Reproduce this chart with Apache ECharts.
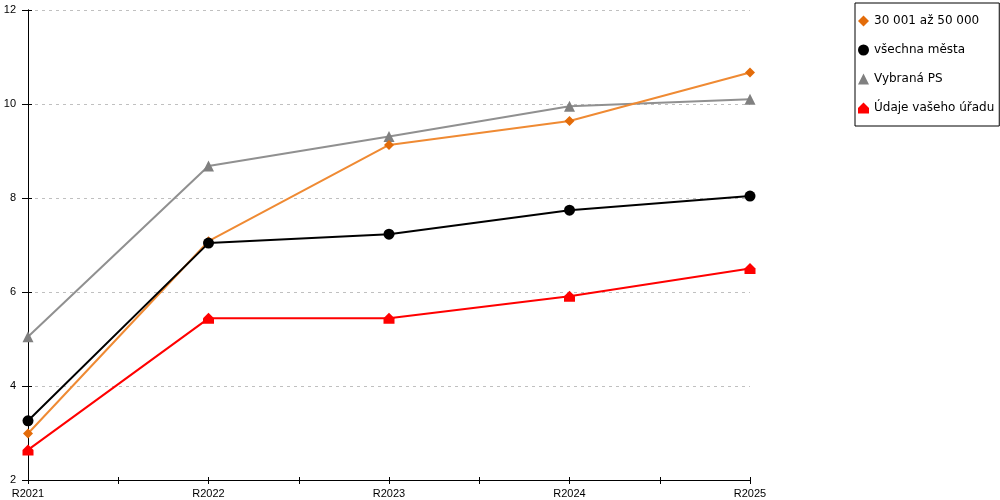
<!DOCTYPE html>
<html>
<head>
<meta charset="utf-8">
<script src="https://cdn.jsdelivr.net/npm/echarts@6/dist/echarts.min.js"></script>
<style>
  html, body { margin: 0; padding: 0; background: #fff; }
  #chart { width: 1000px; height: 500px; }
</style>
</head>
<body>
<div id="chart"></div>
<script>
// roky na ose x
var categories = ['R2021', 'R2022', 'R2023', 'R2024', 'R2025'];

// hodnoty jednotlivych rad
var mesta30az50 = [2.99, 7.08, 9.13, 9.64, 10.67];
var vsechnaMesta = [3.26, 7.04, 7.23, 7.74, 8.04];
var vybranaPS = [5.05, 8.68, 9.31, 9.95, 10.10];
var vasUrad = [2.64, 5.44, 5.44, 5.91, 6.50];

var seriesNames = ['30 001 až 50 000', 'všechna města', 'Vybraná PS', 'Údaje vašeho úřadu'];

var yTicks = [2, 4, 6, 8, 10, 12];

var houseIcon = 'path://M0,5 L5,0 L10,5 L10,10 L0,10 Z';

function toPoints(values) {
    var pts = [];
    for (var i = 0; i < values.length; i++) {
        pts.push([i, values[i]]);
    }
    return pts;
}

var font = 'DejaVu Sans, Verdana, sans-serif';
var axisFont = 'Liberation Sans, Arial, sans-serif';

var myChart = echarts.init(document.getElementById('chart'));

var xMax = categories.length - 1;
var yMin = yTicks[0];
var yMax = yTicks[yTicks.length - 1];

function catLabel(v) {
    return Number.isInteger(v) ? categories[v] : '';
}

var option = {
    animation: false,
    backgroundColor: '#fff',
    textStyle: { fontFamily: font },
    grid: {
        left: 28,
        right: 250,
        top: 10,
        bottom: 20,
        containLabel: false
    },
    legend: {
        orient: 'vertical',
        left: 855,
        top: 3,
        padding: [12, 5, 12, 3],
        itemGap: 17,
        itemWidth: 11,
        itemHeight: 11,
        itemTextGap: 5,
        borderColor: '#000',
        borderWidth: 1,
        borderRadius: 0,
        textStyle: { fontSize: 12, color: '#000', fontFamily: font },
        data: [
            { name: seriesNames[0], icon: 'diamond' },
            { name: seriesNames[1], icon: 'circle' },
            { name: seriesNames[2], icon: 'triangle' },
            { name: seriesNames[3], icon: houseIcon }
        ]
    },
    xAxis: [{
        type: 'value',
        min: 0,
        max: xMax,
        interval: 0.5,
        axisLine: { lineStyle: { color: '#000', width: 1 } },
        axisTick: { show: true, inside: false, length: 4, lineStyle: { color: '#000' } },
        splitLine: { show: false },
        axisLabel: {
            color: '#000',
            fontSize: 11,
            fontFamily: axisFont,
            margin: 8,
            showMaxLabel: true,
            formatter: catLabel
        }
    }, {
        // vnitrni cast krizovych znacek
        type: 'value',
        position: 'bottom',
        min: 0,
        max: xMax,
        interval: 0.5,
        axisLine: { show: false },
        axisTick: { show: true, inside: true, length: 3, lineStyle: { color: '#000' } },
        axisLabel: { show: false },
        splitLine: { show: false }
    }],
    yAxis: [{
        type: 'value',
        min: yMin,
        max: yMax,
        interval: 2,
        axisLine: { show: true, lineStyle: { color: '#000', width: 1 } },
        axisTick: { show: true, inside: false, length: 6, lineStyle: { color: '#000' } },
        axisLabel: { color: '#000', fontSize: 11, fontFamily: axisFont, margin: 12 },
        splitLine: { show: true, lineStyle: { color: '#c0c0c0', type: [3, 4], width: 1 } }
    }, {
        type: 'value',
        position: 'right',
        min: yMin,
        max: yMax,
        interval: 2,
        axisLine: { show: true, lineStyle: { color: '#000', width: 1 } },
        axisTick: { show: false },
        axisLabel: { show: false },
        splitLine: { show: false }
    }, {
        // vnitrni cast krizovych znacek
        type: 'value',
        position: 'left',
        min: yMin,
        max: yMax,
        interval: 2,
        axisLine: { show: false },
        axisTick: { show: true, inside: true, length: 4, lineStyle: { color: '#000' } },
        axisLabel: { show: false },
        splitLine: { show: false }
    }],
    series: [
        {
            name: seriesNames[0],
            type: 'line',
            data: toPoints(mesta30az50),
            symbol: 'diamond',
            symbolSize: 10,
            itemStyle: { color: '#E36C0A' },
            lineStyle: { color: '#EF8A33', width: 2 },
            z: 3
        },
        {
            name: seriesNames[1],
            type: 'line',
            data: toPoints(vsechnaMesta),
            symbol: 'circle',
            symbolSize: 11,
            itemStyle: { color: '#000' },
            lineStyle: { color: '#000', width: 2 },
            z: 4
        },
        {
            name: seriesNames[2],
            type: 'line',
            data: toPoints(vybranaPS),
            symbol: 'triangle',
            symbolSize: 11,
            itemStyle: { color: '#808080' },
            lineStyle: { color: '#909090', width: 2 },
            z: 2
        },
        {
            name: seriesNames[3],
            type: 'line',
            data: toPoints(vasUrad),
            symbol: houseIcon,
            symbolSize: 11,
            itemStyle: { color: '#FF0000' },
            lineStyle: { color: '#FF0000', width: 2 },
            z: 5
        }
    ]
};

myChart.setOption(option);
</script>
</body>
</html>
